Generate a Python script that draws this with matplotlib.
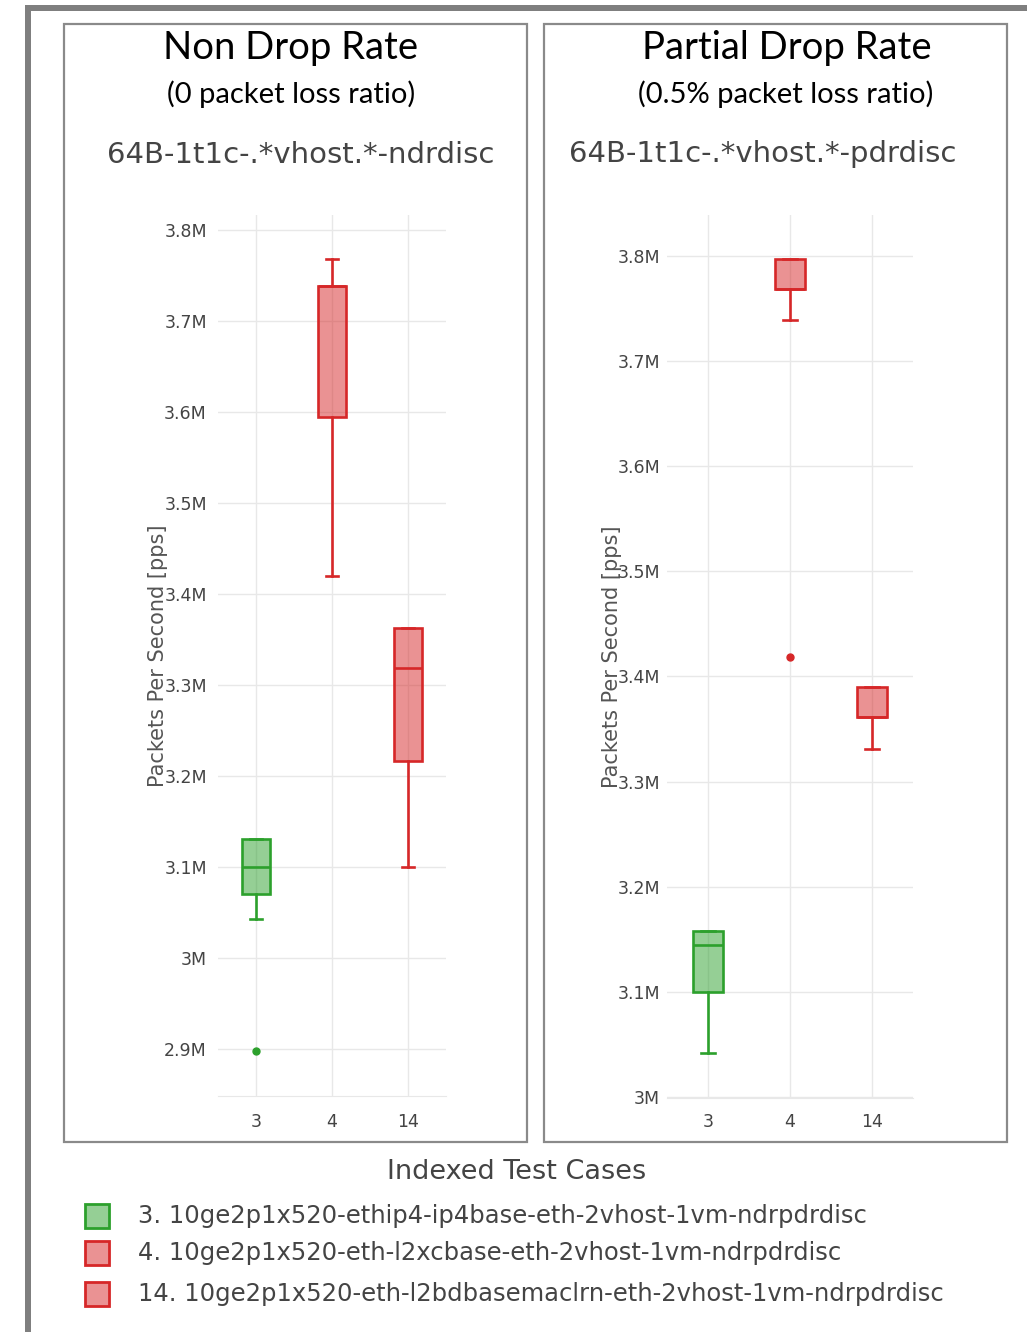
import numpy as np
import matplotlib
matplotlib.use("Agg")
import matplotlib.pyplot as plt
from matplotlib.patches import Rectangle
from matplotlib.colors import to_rgba
from matplotlib.ticker import FuncFormatter

# test cases and colours
cases = ["3", "4", "14"]
case_colors = ["#2ca02c", "#d62728", "#d62728"]
legend_labels = [
    "3. 10ge2p1x520-ethip4-ip4base-eth-2vhost-1vm-ndrpdrdisc",
    "4. 10ge2p1x520-eth-l2xcbase-eth-2vhost-1vm-ndrpdrdisc",
    "14. 10ge2p1x520-eth-l2bdbasemaclrn-eth-2vhost-1vm-ndrpdrdisc",
]

# NDR box stats (Mpps)
ndr_q1 = [3.070, 3.594, 3.216]
ndr_med = [3.100, 3.738, 3.319]
ndr_q3 = [3.130, 3.738, 3.362]
ndr_lo = [3.043, 3.420, 3.100]
ndr_hi = [3.130, 3.768, 3.362]
ndr_out = [[2.897], [], []]

# PDR box stats (Mpps)
pdr_q1 = [3.100, 3.769, 3.361]
pdr_med = [3.145, 3.769, 3.361]
pdr_q3 = [3.158, 3.797, 3.390]
pdr_lo = [3.042, 3.739, 3.331]
pdr_hi = [3.158, 3.797, 3.390]
pdr_out = [[], [3.419], []]

W, H = 1027, 1332
fig = plt.figure(figsize=(W / 100, H / 100), dpi=100)


def fx(x):
    return x / W


def fy(y):
    return 1 - y / H


def px_rect(x0, y0, x1, y1):
    return [x0 / W, 1 - y1 / H, (x1 - x0) / W, (y1 - y0) / H]


# outer slide frame
fig.add_artist(Rectangle((fx(25), 0), 6 / W, fy(5), transform=fig.transFigure,
                         color="#7f7f7f", lw=0))
fig.add_artist(Rectangle((fx(25), fy(11)), 1, 6 / H, transform=fig.transFigure,
                         color="#7f7f7f", lw=0))

# panel frames
for x0, x1 in [(64, 527), (544, 1007)]:
    fig.add_artist(Rectangle((fx(x0), fy(1142)), (x1 - x0) / W, (1142 - 24) / H,
                             transform=fig.transFigure, fill=False,
                             edgecolor="#8a8a8a", lw=1.6))


def draw_panel(rect, q1, med, q3, lo, hi, out, ylim, yticks, lab_x, pad_y, pad_x):
    ax = fig.add_axes(rect)
    stats = []
    for i in range(len(cases)):
        stats.append(dict(label=cases[i], q1=q1[i], med=med[i], q3=q3[i],
                          whislo=lo[i], whishi=hi[i], fliers=out[i]))
    res = ax.bxp(stats, positions=range(len(cases)), widths=0.37, capwidths=0.16,
                 patch_artist=True, showfliers=True, manage_ticks=False)
    for i, c in enumerate(case_colors):
        res["boxes"][i].set_facecolor(to_rgba(c, 0.5))
        res["boxes"][i].set_edgecolor(c)
        res["boxes"][i].set_linewidth(1.9)
        res["medians"][i].set_color(c)
        res["medians"][i].set_linewidth(1.9)
        for ln in res["whiskers"][2 * i:2 * i + 2] + res["caps"][2 * i:2 * i + 2]:
            ln.set_color(c)
            ln.set_linewidth(1.9)
        res["fliers"][i].set(marker="o", markerfacecolor=c, markeredgecolor=c,
                             markersize=5)
    ax.set_xlim(-0.5, 2.5)
    ax.set_ylim(*ylim)
    ax.set_xticks(range(len(cases)))
    ax.set_xticklabels(cases)
    ax.set_yticks(yticks)
    ax.yaxis.set_major_formatter(FuncFormatter(lambda v, p: f"{v:g}M"))
    ax.set_axisbelow(True)
    ax.grid(color="#e8e8e8", lw=1)
    for s in ["top", "right", "left"]:
        ax.spines[s].set_visible(False)
    ax.spines["bottom"].set_color("#e8e8e8")
    ax.tick_params(length=0, labelsize=12.5, labelcolor="#444444")
    ax.tick_params(axis="y", pad=pad_y)
    ax.tick_params(axis="x", pad=pad_x)
    ax.set_ylabel("Packets Per Second [pps]", fontsize=15, color="#555555",
                  va="center", ha="center")
    ax.yaxis.set_label_coords(lab_x, 0.5)
    return ax


draw_panel(px_rect(218, 215, 446, 1096), ndr_q1, ndr_med, ndr_q3, ndr_lo, ndr_hi,
           ndr_out, (2.848, 3.8165), np.arange(2.9, 3.85, 0.1), -0.263, 8, 12)
draw_panel(px_rect(667, 215, 913, 1098), pdr_q1, pdr_med, pdr_q3, pdr_lo, pdr_hi,
           pdr_out, (2.999, 3.839), np.arange(3.0, 3.85, 0.1), -0.224, 5, 11)

# panel headings
fig.text(fx(291), fy(48), "Non Drop Rate", family="Lato", fontsize=27.5,
         ha="center", va="center", color="black")
fig.text(fx(291), fy(94), "(0 packet loss ratio)", family="Lato", fontsize=21,
         ha="center", va="center", color="black")
fig.text(fx(301), fy(155), "64B-1t1c-.*vhost.*-ndrdisc", fontsize=21,
         ha="center", va="center", color="#444444")
fig.text(fx(787), fy(48), "Partial Drop Rate", family="Lato", fontsize=27.5,
         ha="center", va="center", color="black")
fig.text(fx(786), fy(94), "(0.5% packet loss ratio)", family="Lato", fontsize=21,
         ha="center", va="center", color="black")
fig.text(fx(763), fy(154), "64B-1t1c-.*vhost.*-pdrdisc", fontsize=21,
         ha="center", va="center", color="#444444")

# legend
fig.text(fx(517), fy(1172), "Indexed Test Cases", fontsize=19.5,
         ha="center", va="center", color="#444444")
for y, c, lab in zip([1216, 1253, 1294], case_colors, legend_labels):
    fig.add_artist(Rectangle((fx(85), fy(y + 12)), 24 / W, 24 / H,
                             transform=fig.transFigure, facecolor=to_rgba(c, 0.5),
                             edgecolor=c, lw=2))
    fig.text(fx(138), fy(y), lab, fontsize=17.5, ha="left", va="center",
             color="#444444")

fig.savefig("out.png", dpi=100)
